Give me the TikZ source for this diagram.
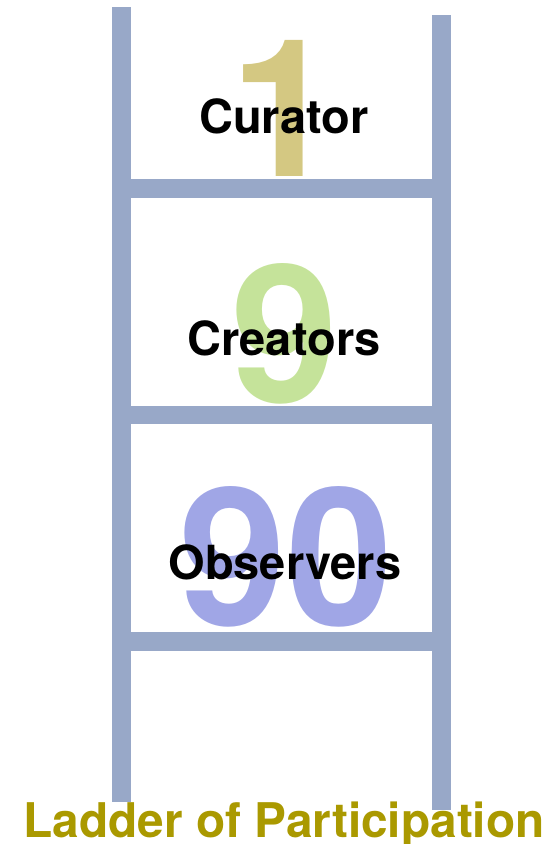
\documentclass[tikz,border=0pt]{standalone}
\usepackage{fontspec}
\setmainfont{TeX Gyre Heros}
\definecolor{railc}{RGB}{152,168,200}
\definecolor{onec}{RGB}{212,200,130}
\definecolor{ninec}{RGB}{197,227,154}
\definecolor{ninetyc}{RGB}{160,166,230}
\definecolor{titlec}{RGB}{170,153,0}
\begin{document}
\begin{tikzpicture}[x=1pt,y=-1pt,
  rail/.style={fill=railc,draw=none},
  bignum/.style={inner sep=0pt,anchor=base,font=\fontsize{192}{192}\selectfont\bfseries},
  label/.style={inner sep=0pt,anchor=base,font=\fontsize{47}{47}\selectfont\bfseries,text=black},
  titlestyle/.style={inner sep=0pt,anchor=base,font=\fontsize{47.8}{47.8}\selectfont\bfseries,text=titlec}]
\useasboundingbox (0,0) rectangle (556,844);
% rails
\path[rail] (112,7) rectangle (131,802);
\path[rail] (432,15) rectangle (451,810);
% rungs
\path[rail] (131,179) rectangle (432,198);
\path[rail] (131,406) rectangle (432,424);
\path[rail] (131,632) rectangle (432,651);
% big numbers
\node[bignum,text=onec] (one) at (284,176) {1};
\node[bignum,text=ninec] (nine) at (285,402) {9};
\node[bignum,text=ninetyc] (ninety) at (286,625) {90};
% labels
\node[label] (curator) at (284,133) {Curator};
\node[label] (creators) at (284,355) {Creators};
\node[label] (observers) at (285,579) {Observers};
% title
\node[titlestyle] (title) at (284,837) {Ladder of Participation};
\end{tikzpicture}
\end{document}
